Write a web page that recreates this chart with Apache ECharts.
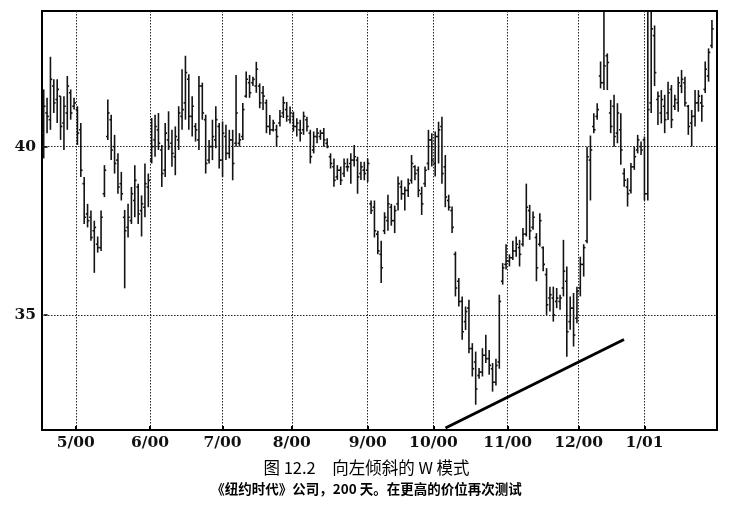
<!DOCTYPE html>
<html lang="zh">
<head>
<meta charset="UTF-8">
<title>图 12.2 向左倾斜的 W 模式</title>
<script src="https://cdn.jsdelivr.net/npm/echarts@6/dist/echarts.min.js"></script>
<style>html,body{margin:0;padding:0;background:#fff}</style>
</head>
<body>
<div id="chart" style="width:733px;height:515px"></div>
<script>
// 200 个交易日的 OHLC
var opens = [
  40.4,41.0,40.8,41.8,41.4,41.5,40.7,41.0,41.6,41.2, 41.1,40.5,38.9,38.0,37.9,37.5,37.1,37.0,38.6,40.3,
  40.8,40.0,39.6,38.9,37.9,37.6,37.8,38.4,38.8,38.1, 38.2,38.8,39.6,40.2,40.5,39.9,39.3,40.2,40.1,39.7,
  40.2,40.9,41.3,42.0,40.9,40.6,40.2,41.8,40.8,39.6, 40.0,40.2,40.6,39.6,40.3,39.8,40.2,40.1,40.1,40.3,
  41.5,41.9,41.9,41.8,41.8,41.6,41.3,40.6,40.5,40.5, 40.7,41.0,41.1,40.8,40.9,40.6,40.5,40.5,40.8,40.4,
  39.9,40.3,40.3,40.4,40.1,39.7,39.4,39.1,39.3,39.2, 39.4,39.5,39.6,39.6,39.2,39.3,39.3,38.3,38.2,37.4,
  36.8,37.5,37.8,38.2,37.8,38.3,38.8,38.6,38.7,39.0, 39.4,39.3,38.6,38.9,39.5,40.2,39.5,40.3,40.6,39.4,
  38.4,38.1,36.8,36.0,35.4,34.8,35.2,34.0,33.6,33.2, 33.3,33.8,33.7,33.4,33.0,33.6,36.0,36.5,36.6,36.7,
  36.9,37.0,37.1,37.4,38.1,37.6,37.3,37.1,37.0,36.2, 35.5,35.5,35.4,35.4,35.8,36.0,34.8,35.2,34.9,35.8,
  36.5,37.2,39.6,40.6,40.9,42.1,41.9,42.7,41.0,41.2, 40.4,40.5,39.2,38.8,38.7,39.4,39.9,40.0,40.2,38.6,
  41.3,43.3,41.4,41.0,41.2,41.0,41.7,41.2,41.3,41.8, 41.9,41.2,40.7,40.9,41.3,41.3,41.7,42.1,43.0
];
var highs = [
  41.7,41.45,42.67,42.0,42.0,41.5,41.5,42.1,41.7,41.45, 41.2,40.7,39.1,38.3,38.1,37.8,37.33,38.1,39.45,41.4,
  40.95,40.35,39.8,39.25,38.12,38.3,38.8,39.45,38.9,38.55, 39.5,39.2,40.85,40.95,41.0,40.05,40.7,41.05,40.5,40.6,
  41.2,42.3,42.7,42.15,41.5,40.7,42.1,41.9,40.95,40.2, 40.8,41.2,40.7,40.75,40.65,40.5,40.5,42.13,40.4,41.3,
  42.23,42.13,42.08,42.52,41.88,41.8,41.4,40.94,40.8,40.65, 41.09,41.49,41.33,41.19,41.04,40.84,40.8,41.04,40.89,40.5,
  40.45,40.55,40.5,40.55,40.25,39.8,39.65,39.45,39.41,39.65, 39.65,39.8,40.05,39.7,39.55,39.55,39.65,38.4,38.4,37.5,
  37.2,38.05,38.57,38.3,38.25,39.11,39.0,38.81,39.05,39.75, 39.45,39.41,38.81,39.41,40.5,40.4,40.45,40.74,40.89,39.75,
  38.57,38.22,36.88,36.1,35.55,35.25,35.45,34.16,33.91,33.42, 34.01,34.41,33.96,33.57,33.7,35.6,36.54,37.1,36.8,37.2,
  37.33,37.23,37.58,38.9,38.27,38.07,37.43,38.02,37.03,36.39, 35.84,35.84,35.8,35.6,37.23,36.44,35.55,35.65,35.84,36.73,
  37.1,40.0,40.33,40.99,41.29,42.53,44.0,42.77,41.39,41.54, 41.29,40.99,39.36,39.06,39.51,40.0,40.35,40.15,40.3,44.0,
  44.0,43.6,41.64,41.68,41.54,41.93,41.83,41.54,42.08,42.28, 42.08,41.24,41.09,41.68,41.68,41.54,42.53,42.92,43.76
];
var lows = [
  39.65,40.4,40.5,41.0,40.7,40.2,39.9,40.5,40.8,41.1, 40.05,39.1,37.7,37.6,37.2,36.25,36.85,36.9,38.5,40.2,
  39.6,39.2,38.6,38.4,35.79,37.3,37.7,37.9,37.7,37.33, 37.9,38.2,39.5,39.7,39.9,38.8,39.1,39.9,39.4,39.15,
  39.9,40.5,40.8,40.5,40.3,40.15,39.9,40.8,39.2,39.5, 39.6,39.95,39.35,39.1,39.6,39.65,39.0,40.0,40.0,40.2,
  41.45,41.45,41.8,41.6,41.14,41.09,40.4,40.35,40.45,40.0, 40.6,40.85,40.74,40.69,40.45,40.3,40.15,40.35,40.45,39.5,
  39.8,40.1,40.2,40.0,39.95,39.35,38.81,39.01,38.86,39.1, 39.26,38.9,39.41,38.6,39.01,39.0,38.95,38.0,37.3,36.8,
  35.95,37.4,37.5,37.65,37.43,38.1,38.42,38.1,38.5,38.9, 39.0,38.5,37.97,38.8,39.3,39.41,39.11,39.5,38.9,38.2,
  38.1,37.43,35.55,35.25,34.26,34.55,33.86,33.17,32.33,33.1, 33.17,33.57,33.22,32.72,32.9,33.4,35.9,36.35,36.44,36.63,
  36.73,36.44,37.03,37.33,37.23,37.53,36.0,37.03,36.3,35.0, 35.1,34.8,35.2,35.15,35.55,33.76,34.56,34.06,34.75,35.55,
  36.14,37.13,38.4,40.4,40.8,41.73,41.68,41.68,40.4,40.0, 40.1,39.46,38.81,38.22,38.61,39.31,39.8,39.75,38.4,38.4,
  41.0,41.8,40.64,40.69,40.4,40.79,40.55,41.09,41.04,41.59, 41.19,40.35,40.0,40.6,41.04,40.74,41.59,41.93,42.92
];
var closes = [
  41.2,40.9,42.0,41.3,41.7,40.6,41.2,41.8,41.0,41.3, 40.4,39.3,37.9,37.8,37.3,37.6,37.0,37.9,39.3,41.0,
  39.9,39.5,38.8,38.6,37.5,37.9,38.6,39.0,38.0,38.3, 38.9,39.0,40.0,40.6,40.1,39.2,40.4,40.0,39.8,40.3,
  41.0,41.1,42.2,40.9,41.2,40.5,41.8,41.0,39.5,40.0, 40.3,40.8,39.6,40.4,39.8,40.2,39.5,41.0,40.2,41.1,
  42.0,41.6,42.0,42.3,41.3,41.5,40.6,40.5,40.7,40.3, 40.9,41.3,40.9,41.0,40.6,40.7,40.4,40.9,40.6,39.7,
  40.3,40.4,40.4,40.2,40.0,39.5,39.0,39.3,39.0,39.5, 39.4,39.6,39.7,39.1,39.4,39.2,39.5,38.1,37.5,36.9,
  36.4,37.9,38.3,37.8,38.1,38.9,38.6,38.7,38.9,39.5, 39.2,38.7,38.3,39.3,40.2,39.6,40.3,40.5,39.2,38.5,
  38.2,37.6,35.8,35.4,34.5,35.1,34.0,33.4,32.8,33.3, 33.8,33.7,33.5,33.0,33.5,35.4,36.4,36.6,36.7,36.9,
  37.1,36.8,37.4,38.2,37.5,37.9,36.4,37.8,36.5,35.3, 35.6,35.0,35.5,35.5,36.3,34.5,35.2,34.4,35.7,36.5,
  37.0,39.7,39.9,40.5,41.1,41.9,42.4,42.5,40.6,40.3, 41.0,39.9,39.0,38.6,39.4,39.7,40.2,39.9,38.6,41.1,
  43.5,42.2,41.5,41.4,40.8,41.6,40.8,41.4,41.9,42.0, 41.3,40.6,40.9,41.3,41.5,41.2,42.3,42.8,43.5
];

// 月份刻度（交易日序号）
var monthTicks = [9.5, 31.5, 53, 73.5, 96, 115.5, 137.5, 158.5, 178];
var monthLabels = ['5/00', '6/00', '7/00', '8/00', '9/00', '10/00', '11/00', '12/00', '1/01'];
var priceTicks = [35, 40];

// 支撑趋势线的两个端点
var trendX = [119.05, 171.94];
var trendY = [31.64, 34.27];

var chartDom = document.getElementById('chart');
var myChart = echarts.init(chartDom);

var bars = [];
for (var i = 0; i < highs.length; i++) {
    bars.push([i, opens[i], highs[i], lows[i], closes[i]]);
}
var trend = [];
for (var j = 0; j < trendX.length; j++) {
    trend.push([trendX[j], trendY[j]]);
}

var ink = '#141414';
var tickFont = {fontFamily: 'DejaVu Serif', fontSize: 15.5, fontWeight: 'bold', color: '#111'};

var option = {
    animation: false,
    backgroundColor: '#fff',
    title: {
        text: '图 12.2　向左倾斜的 W 模式',
        subtext: '《纽约时代》公司，200 天。在更高的价位再次测试',
        left: 'center',
        top: 454,
        itemGap: 7,
        textStyle: {fontFamily: 'Noto Sans CJK SC', fontSize: 16.5, fontWeight: 'normal', color: '#000'},
        subtextStyle: {fontFamily: 'Noto Sans CJK SC', fontSize: 13.5, fontWeight: 'bold', color: '#000'}
    },
    grid: {
        left: 42, right: 16, top: 11, bottom: 85,
        show: true, borderColor: '#000', borderWidth: 2
    },
    xAxis: {
        type: 'value',
        min: -0.5,
        max: 199.5,
        axisLine: {show: false},
        axisTick: {show: true, inside: true, length: 4, customValues: monthTicks,
            lineStyle: {color: '#000', width: 2}},
        axisLabel: {
            customValues: monthTicks,
            margin: 5,
            formatter: function (v) {
                for (var k = 0; k < monthTicks.length; k++) {
                    if (Math.abs(monthTicks[k] - v) < 0.01) return monthLabels[k];
                }
                return '';
            },
            fontFamily: tickFont.fontFamily, fontSize: tickFont.fontSize,
            fontWeight: tickFont.fontWeight, color: tickFont.color
        },
        splitLine: {show: true, lineStyle: {color: '#222', width: 1, type: [1.5, 1.5]}}
    },
    yAxis: {
        type: 'value',
        min: 31.58,
        max: 44.03,
        axisLine: {show: false},
        axisTick: {show: true, inside: true, length: 4, customValues: priceTicks,
            lineStyle: {color: '#000', width: 1.5}},
        axisLabel: {
            customValues: priceTicks,
            margin: 6,
            fontFamily: tickFont.fontFamily, fontSize: tickFont.fontSize,
            fontWeight: tickFont.fontWeight, color: tickFont.color
        },
        splitLine: {show: true, lineStyle: {color: '#222', width: 1, type: [1.5, 1.5]}}
    },
    series: [
        {
            type: 'custom',
            name: 'NYT',
            clip: true,
            encode: {x: 0, y: [1, 2, 3, 4]},
            renderItem: function (params, api) {
                var x = api.value(0);
                var pO = api.coord([x, api.value(1)]);
                var pH = api.coord([x, api.value(2)]);
                var pL = api.coord([x, api.value(3)]);
                var pC = api.coord([x, api.value(4)]);
                var t = 1.8;
                var st = {stroke: ink, lineWidth: 1.6};
                return {
                    type: 'group',
                    children: [
                        {type: 'line', shape: {x1: pH[0], y1: pH[1], x2: pL[0], y2: pL[1]}, style: st},
                        {type: 'line', shape: {x1: pO[0] - t, y1: pO[1], x2: pO[0], y2: pO[1]}, style: st},
                        {type: 'line', shape: {x1: pC[0], y1: pC[1], x2: pC[0] + t, y2: pC[1]}, style: st}
                    ]
                };
            },
            data: bars
        },
        {
            type: 'line',
            name: 'trend',
            data: trend,
            symbol: 'none',
            silent: true,
            lineStyle: {color: '#000', width: 3}
        }
    ]
};

option && myChart.setOption(option);
</script>
</body>
</html>
